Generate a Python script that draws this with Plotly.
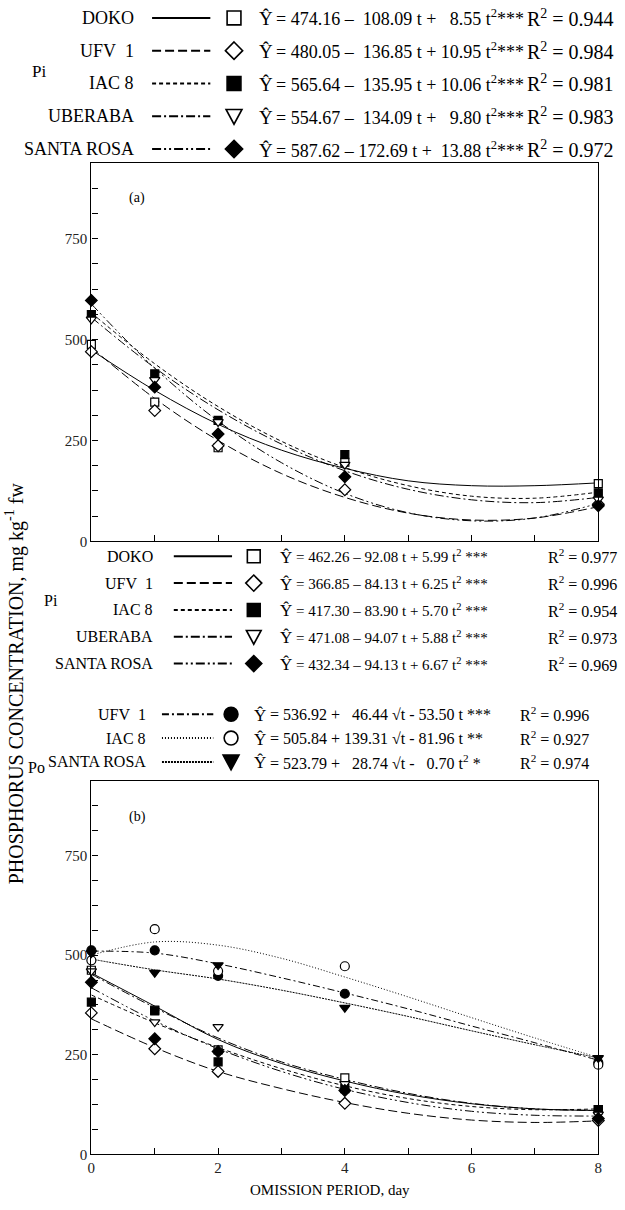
import plotly.graph_objects as go

W, H = 625, 1210

# ---------------- data ----------------
DAYS = [0, 1, 2, 4, 8]
FIT_T = [0, 1, 2, 3, 4, 5, 6, 7, 8]
PI_NAMES = ["DOKO", "UFV\u00a0 1", "IAC 8", "UBERABA", "SANTA ROSA"]
PO_NAMES = ["UFV\u00a0 1", "IAC 8", "SANTA ROSA"]

# panel (a) Pi, observed
A_DOKO = [488, 345, 232, 196, 143]
A_UFV1 = [470, 324, 237, 128, 92]
A_IAC8 = [562, 415, 300, 215, 120]
A_UBER = [550, 400, 296, 190, 104]
A_SROSA = [597, 382, 266, 160, 88]
# panel (a) Pi, fitted curves
A_FIT_DOKO = [474, 374, 290, 226, 181, 150, 138, 138, 145]
A_FIT_UFV1 = [480, 354, 250, 168, 109, 70, 53, 58, 86]
A_FIT_IAC8 = [566, 440, 334, 248, 183, 138, 112, 107, 122]
A_FIT_UBER = [555, 430, 326, 241, 175, 129, 103, 96, 109]
A_FIT_SROSA = [588, 429, 298, 195, 119, 71, 51, 58, 94]

# panel (b) Pi, observed
B_DOKO = [462, 362, 262, 192, 112]
B_UFV1 = [355, 265, 208, 128, 85]
B_IAC8 = [382, 360, 232, 165, 112]
B_UBER = [460, 332, 320, 177, 100]
B_SROSA = [432, 290, 258, 160, 90]
# panel (b) Pi, fitted curves
B_FIT_DOKO = [455, 372, 288, 228, 184, 150, 127, 114, 110]
B_FIT_UFV1 = [340, 268, 208, 165, 130, 103, 86, 80, 84]
B_FIT_IAC8 = [400, 330, 268, 215, 172, 140, 120, 112, 114]
B_FIT_UBER = [452, 368, 292, 232, 188, 153, 128, 114, 110]
B_FIT_SROSA = [418, 335, 265, 208, 163, 130, 108, 98, 96]

# panel (b) Po, observed
PO_UFV1 = [512, 512, 448, 403, 230]
PO_IAC8 = [487, 565, 460, 472, 225]
PO_SROSA = [505, 456, 475, 368, 242]
# panel (b) Po, fitted curves
PO_FIT_UFV1 = [510, 505, 478, 443, 405, 365, 322, 280, 236]
PO_FIT_IAC8 = [500, 533, 525, 492, 445, 395, 343, 292, 243]
PO_FIT_SROSA = [490, 463, 440, 412, 380, 346, 310, 275, 242]

# legend equations
A_EQ = ["=\u00a0474.16 \u2013\u00a0 108.09 t +\u00a0\u00a0 8.55 t<sup>2</sup>***",
        "=\u00a0480.05 \u2013\u00a0 136.85 t + 10.95 t<sup>2</sup>***",
        "=\u00a0565.64 \u2013\u00a0 135.95 t + 10.06 t<sup>2</sup>***",
        "=\u00a0554.67 \u2013\u00a0 134.09 t +\u00a0\u00a0 9.80 t<sup>2</sup>***",
        "=\u00a0587.62 \u2013 172.69 t +\u00a0 13.88 t<sup>2</sup>***"]
A_R2 = ["0.944", "0.984", "0.981", "0.983", "0.972"]
B_EQ = ["= 462.26 \u2013 92.08 t + 5.99 t<sup>2</sup> ***",
        "= 366.85 \u2013 84.13 t + 6.25 t<sup>2</sup> ***",
        "= 417.30 \u2013 83.90 t + 5.70 t<sup>2</sup> ***",
        "= 471.08 \u2013 94.07 t + 5.88 t<sup>2</sup> ***",
        "= 432.34 \u2013 94.13 t + 6.67 t<sup>2</sup> ***"]
B_R2 = ["0.977", "0.996", "0.954", "0.973", "0.969"]
PO_EQ = ["= 536.92 +\u00a0\u00a0 46.44 \u221at - 53.50 t ***",
         "= 505.84 + 139.31 \u221at - 81.96 t **",
         "= 523.79 +\u00a0\u00a0 28.74 \u221at -\u00a0\u00a0 0.70 t<sup>2</sup> *"]
PO_R2 = ["0.996", "0.927", "0.974"]

Y_LABEL_VALS = [0, 250, 500, 750]
Y_MINOR = [i * 62.5 for i in range(1, 15)]
X_LABEL_VALS = [0, 2, 4, 6, 8]
X_MINOR = [1, 3, 5, 7]

# ---------------- styles ----------------
FONT = "'Liberation Serif', 'Times New Roman', Times, serif"
PI_DASH = ["solid", "9px,4px", "4px,3px", "9px,3px,2px,3px", "9px,3px,2px,3px,2px,3px"]
PO_DASH = ["7px,3px,2px,3px", "1px,2px", "2px,1px"]
PI_SYM = ["square", "diamond", "square", "triangle-down", "diamond"]
PI_FILL = ["white", "white", "black", "white", "black"]
PI_SIZE = [8, 9, 8, 9, 9]
PO_SYM = ["circle", "circle", "triangle-down"]
PO_FILL = ["black", "white", "black"]

fig = go.Figure()

a_obs = [A_DOKO, A_UFV1, A_IAC8, A_UBER, A_SROSA]
a_fit = [A_FIT_DOKO, A_FIT_UFV1, A_FIT_IAC8, A_FIT_UBER, A_FIT_SROSA]
b_obs = [B_DOKO, B_UFV1, B_IAC8, B_UBER, B_SROSA]
b_fit = [B_FIT_DOKO, B_FIT_UFV1, B_FIT_IAC8, B_FIT_UBER, B_FIT_SROSA]
po_obs = [PO_UFV1, PO_IAC8, PO_SROSA]
po_fit = [PO_FIT_UFV1, PO_FIT_IAC8, PO_FIT_SROSA]

def add_fit(xa, ya, ys, dash):
    fig.add_trace(go.Scatter(x=FIT_T, y=ys, mode="lines", xaxis=xa, yaxis=ya,
                             line=dict(color="black", width=1, dash=dash, shape="spline", smoothing=1.0),
                             showlegend=False, hoverinfo="skip"))

def add_obs(xa, ya, ys, sym, fill, size):
    fig.add_trace(go.Scatter(x=DAYS, y=ys, mode="markers", xaxis=xa, yaxis=ya, cliponaxis=False,
                             marker=dict(symbol=sym, size=size, color=fill,
                                         line=dict(color="black", width=1.2)),
                             showlegend=False))

for i in range(5):
    add_fit("x", "y", a_fit[i], PI_DASH[i])
    add_fit("x2", "y2", b_fit[i], PI_DASH[i])
for i in range(3):
    add_fit("x2", "y2", po_fit[i], PO_DASH[i])
for i in range(5):
    add_obs("x", "y", a_obs[i], PI_SYM[i], PI_FILL[i], PI_SIZE[i])
    add_obs("x2", "y2", b_obs[i], PI_SYM[i], PI_FILL[i], PI_SIZE[i])
for i in range(3):
    add_obs("x2", "y2", po_obs[i], PO_SYM[i], PO_FILL[i], 9)

# ---------------- layout ----------------
def px(x):
    return x / W

def py(y):
    return 1 - y / H

X0, X1 = 88.5, 602
A_TOP, A_BOT = 164, 545
B_TOP, B_BOT = 786, 1162

tickfont = dict(family=FONT, size=15, color="#222")
axis_common = dict(showline=True, linecolor="black", linewidth=1.3, mirror=True,
                   ticks="inside", tickcolor="black", ticklen=6, tickwidth=1,
                   showgrid=False, zeroline=False, tickfont=tickfont, fixedrange=True)
minor_y = dict(tickvals=Y_MINOR, ticks="inside", ticklen=6, tickwidth=1, tickcolor="black", showgrid=False)
minor_x = dict(tickvals=X_MINOR, ticks="inside", ticklen=6, tickwidth=1, tickcolor="black", showgrid=False)

fig.update_layout(
    width=W, height=H, margin=dict(l=0, r=0, t=0, b=0),
    paper_bgcolor="white", plot_bgcolor="white", showlegend=False,
    font=dict(family=FONT, size=16, color="black"),
    xaxis=dict(domain=[px(X0), px(X1)], range=[0, 8], anchor="y",
               tickvals=X_LABEL_VALS, showticklabels=False, minor=minor_x, **axis_common),
    yaxis=dict(domain=[py(A_BOT), py(A_TOP)], range=[0, 937.5], anchor="x",
               tickvals=Y_LABEL_VALS, minor=minor_y, **axis_common),
    xaxis2=dict(domain=[px(X0), px(X1)], range=[0, 8], anchor="y2",
                tickvals=X_LABEL_VALS, minor=minor_x, **axis_common),
    yaxis2=dict(domain=[py(B_BOT), py(B_TOP)], range=[0, 937.5], anchor="x2",
                tickvals=Y_LABEL_VALS, minor=minor_y, **axis_common),
)

ann = []
shapes = []

def text(x, y, s, anchor="left", size=16, angle=0):
    ann.append(dict(x=px(x), y=py(y), xref="paper", yref="paper", text=s, showarrow=False,
                    xanchor=anchor, yanchor="middle", textangle=angle,
                    font=dict(family=FONT, size=size, color="black")))

def key_line(x0, x1, y, dash, width=1.6):
    shapes.append(dict(type="line", xref="paper", yref="paper", x0=px(x0), x1=px(x1),
                       y0=py(y), y1=py(y), line=dict(color="black", width=width, dash=dash)))

def key_marker(sym, fill, cx, cy, r):
    line = dict(color="black", width=1.6)
    if sym == "square":
        shapes.append(dict(type="rect", xref="paper", yref="paper", x0=px(cx - r), x1=px(cx + r),
                           y0=py(cy + r), y1=py(cy - r), fillcolor=fill, line=line))
    elif sym == "circle":
        shapes.append(dict(type="circle", xref="paper", yref="paper", x0=px(cx - r), x1=px(cx + r),
                           y0=py(cy + r), y1=py(cy - r), fillcolor=fill, line=line))
    elif sym == "diamond":
        r2 = r * 1.25
        p = "M {} {} L {} {} L {} {} L {} {} Z".format(px(cx), py(cy - r2), px(cx + r2), py(cy),
                                                      px(cx), py(cy + r2), px(cx - r2), py(cy))
        shapes.append(dict(type="path", xref="paper", yref="paper", path=p, fillcolor=fill, line=line))
    elif sym == "triangle-down":
        r2 = r * 1.15
        p = "M {} {} L {} {} L {} {} Z".format(px(cx - r2), py(cy - r2 * 0.85), px(cx + r2), py(cy - r2 * 0.85),
                                             px(cx), py(cy + r2 * 1.0))
        shapes.append(dict(type="path", xref="paper", yref="paper", path=p, fillcolor=fill, line=line))

# top legend block (panel a)
TOP_ROWS = [18, 51, 84, 117, 150]
for i in range(5):
    y = TOP_ROWS[i]
    text(134, y, PI_NAMES[i], "right", 18)
    key_line(150, 209, y, PI_DASH[i], 2)
    key_marker(PI_SYM[i], PI_FILL[i], 233, y, 7)
    text(256, y + 1, "Y\u0302", "left", 19)
    text(273, y, A_EQ[i], "left", 18)
    text(528, y, "R<sup>2</sup> = " + A_R2[i], "left", 20)
text(26, 72, "Pi", "left", 17)

# second Pi block (panel b)
PI_ROWS = [560, 587, 614, 641, 668]
for i in range(5):
    y = PI_ROWS[i]
    text(153, y, PI_NAMES[i], "right")
    key_line(172, 231, y, PI_DASH[i], 2)
    key_marker(PI_SYM[i], PI_FILL[i], 253, y, 6.5)
    text(278, y + 1, "Y\u0302", "left", 17)
    text(294, y, B_EQ[i], "left", 15)
    text(549, y, "R<sup>2</sup> = " + B_R2[i])
text(38, 604, "Pi")

# Po block
PO_ROWS = [719, 743, 767]
for i in range(3):
    y = PO_ROWS[i]
    text(146, y, PO_NAMES[i], "right")
    key_line(160, 212, y, PO_DASH[i], 2)
    key_marker(PO_SYM[i], PO_FILL[i], 230, y, 7)
    text(251, y + 1, "Y\u0302", "left", 17)
    text(267, y, PO_EQ[i])
    text(521, y, "R<sup>2</sup> = " + PO_R2[i])
text(22, 773, "Po")

# panel labels and titles
text(125, 199, "(a)", "left", 14)
text(125, 822, "(b)", "left", 14)
text(330, 1198, "OMISSION PERIOD, day", "center", 15)
text(11, 688, "PHOSPHORUS CONCENTRATION, mg kg<sup>-1</sup> fw", "center", 20, -90)

fig.update_layout(annotations=ann, shapes=shapes)
fig.write_html("out.html")
